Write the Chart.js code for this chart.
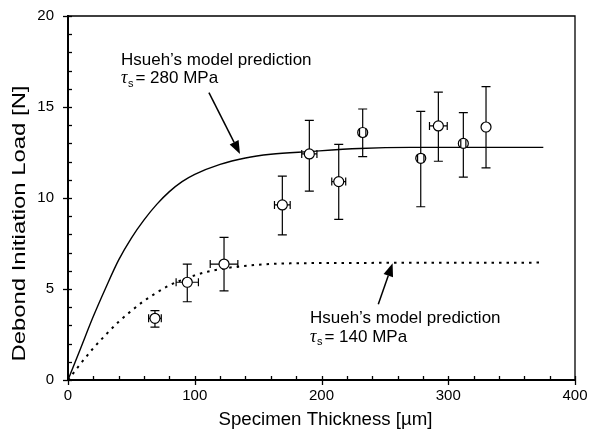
<!DOCTYPE html>
<html><head><meta charset="utf-8">
<script src="https://cdn.jsdelivr.net/npm/chart.js@4.4.0/dist/chart.umd.min.js"></script>
<style>html,body{margin:0;padding:0;background:#fff;}</style>
</head><body>
<canvas id="c" width="589" height="430"></canvas>
<script>
// ---- data ----
const thickness    = [68.6, 94.1, 123.1, 169.1, 190.4, 213.6, 232.5, 278.3, 292.2, 311.9, 329.8];
const load         = [3.39, 5.37, 6.37, 9.62, 12.42, 10.90, 13.60, 12.18, 13.96, 13.00, 13.90];
const loadUpper    = [3.81, 6.37, 7.84, 11.20, 14.27, 12.95, 14.89, 14.76, 15.82, 14.69, 16.12];
const loadLower    = [2.90, 4.30, 4.90, 7.97, 10.38, 8.83, 12.27, 9.52, 12.02, 11.15, 11.65];
const thicknessErr = [5.0, 8.8, 10.9, 6.2, 6.0, 5.5, 2.5, 2.5, 7.0, 2.0, 0];

const model280X = [0, 10, 20, 30, 40, 50, 60, 70, 80, 90, 100, 120, 140, 160, 190, 230, 270, 375];
const model280Y = [0, 1.75, 3.5, 5.1, 6.6, 7.8, 8.8, 9.65, 10.35, 10.9, 11.3, 11.85, 12.2, 12.4, 12.55, 12.72, 12.78, 12.78];
const model140X = [0, 10, 20, 30, 40, 50, 60, 70, 80, 90, 100, 110, 130, 150, 170, 220, 374];
const model140Y = [0, 0.9, 1.75, 2.5, 3.2, 3.8, 4.35, 4.8, 5.2, 5.5, 5.75, 5.95, 6.2, 6.33, 6.4, 6.43, 6.45];

const xTickLabels = [0, 100, 200, 300, 400];
const yTickLabels = [0, 5, 10, 15, 20];
const xTitle = "Specimen Thickness [\u00b5m]";
const yTitle = "Debond Initiation Load [N]";
const annotationLine1 = ["Hsueh\u2019s model prediction", "Hsueh\u2019s model prediction"];
const annotationTau = ["280 MPa", "140 MPa"];

const FONT = "'Liberation Sans', Arial, Helvetica, sans-serif";

// annotation anchors in data coordinates
const notes = [
  {x: 41.8, y: 17.31, tail: [111.2, 15.79], tip: [135.7, 12.42]},
  {x: 190.9, y: 3.12, tail: [244.8, 4.16], tip: [256.1, 6.41]}
];

function pts(xs, ys){ return xs.map((v,i)=>({x:v, y:ys[i]})); }

const decor = {
  id: 'decor',
  afterDatasetsDraw(chart){
    const {ctx, chartArea:a, scales:{x, y}} = chart;
    ctx.save();
    ctx.strokeStyle = '#000'; ctx.fillStyle = '#000';
    // top and right frame
    ctx.lineWidth = 1.3;
    ctx.beginPath(); ctx.moveTo(a.left, a.top); ctx.lineTo(a.right, a.top); ctx.lineTo(a.right, a.bottom); ctx.stroke();
    // tick marks
    ctx.lineWidth = 1.3;
    for (let v = 0; v <= 400; v += 20){
      const px = Math.round(x.getPixelForValue(v)) + 0.5;
      const major = v % 100 === 0;
      ctx.beginPath(); ctx.moveTo(px, a.bottom - 4); ctx.lineTo(px, a.bottom + (major ? 5 : 0)); ctx.stroke();
    }
    for (let v = 0; v <= 20; v += 1){
      const py = Math.round(y.getPixelForValue(v)) + 0.5;
      const major = v % 5 === 0;
      ctx.beginPath(); ctx.moveTo(a.left - (major ? 5 : 0), py); ctx.lineTo(a.left + 4, py); ctx.stroke();
    }
    // error bars
    const r = 5;
    ctx.lineWidth = 1.2;
    thickness.forEach((t, i) => {
      const px = x.getPixelForValue(t), py = y.getPixelForValue(load[i]);
      const top = y.getPixelForValue(loadUpper[i]), bot = y.getPixelForValue(loadLower[i]);
      ctx.beginPath();
      if (top < py - r){ ctx.moveTo(px, py - r); ctx.lineTo(px, top); }
      if (bot > py + r){ ctx.moveTo(px, py + r); ctx.lineTo(px, bot); }
      ctx.moveTo(px - 4.5, top); ctx.lineTo(px + 4.5, top);
      ctx.moveTo(px - 4.5, bot); ctx.lineTo(px + 4.5, bot);
      if (thicknessErr[i] > 0){
        const l = x.getPixelForValue(t - thicknessErr[i]), rr = x.getPixelForValue(t + thicknessErr[i]);
        if (l < px - r){ ctx.moveTo(px - r, py); ctx.lineTo(l, py); }
        if (rr > px + r){ ctx.moveTo(px + r, py); ctx.lineTo(rr, py); }
        ctx.moveTo(l, py - 4); ctx.lineTo(l, py + 4);
        ctx.moveTo(rr, py - 4); ctx.lineTo(rr, py + 4);
      }
      ctx.stroke();
    });
    // annotations
    notes.forEach((n, k) => {
      const tx = x.getPixelForValue(n.x), ty = y.getPixelForValue(n.y);
      ctx.textAlign = 'left'; ctx.textBaseline = 'alphabetic';
      ctx.font = '17px ' + FONT;
      ctx.fillText(annotationLine1[k], tx, ty);
      const b2 = ty + 18.5;
      ctx.font = "italic 18px 'Liberation Serif', 'DejaVu Serif', serif";
      ctx.fillText('\u03c4', tx, b2);
      let cx = tx + ctx.measureText('\u03c4').width;
      ctx.font = '11px ' + FONT;
      ctx.fillText('s', cx + 0.5, b2 + 3.5);
      cx += ctx.measureText('s').width + 2.5;
      ctx.font = '17px ' + FONT;
      ctx.fillText('= ' + annotationTau[k], cx, b2);
      // arrow
      const x0 = x.getPixelForValue(n.tail[0]), y0 = y.getPixelForValue(n.tail[1]);
      const x1 = x.getPixelForValue(n.tip[0]), y1 = y.getPixelForValue(n.tip[1]);
      const ang = Math.atan2(y1 - y0, x1 - x0), hl = 13, hw = 5;
      const bx = x1 - hl * Math.cos(ang), by = y1 - hl * Math.sin(ang);
      ctx.lineWidth = 1.5;
      ctx.beginPath(); ctx.moveTo(x0, y0); ctx.lineTo(bx, by); ctx.stroke();
      ctx.beginPath();
      ctx.moveTo(x1, y1);
      ctx.lineTo(bx + hw * Math.sin(ang), by - hw * Math.cos(ang));
      ctx.lineTo(bx - hw * Math.sin(ang), by + hw * Math.cos(ang));
      ctx.closePath(); ctx.fill();
    });
    // axis titles
    ctx.font = '18px ' + FONT;
    ctx.textAlign = 'center'; ctx.textBaseline = 'alphabetic';
    let w = ctx.measureText(xTitle).width;
    ctx.save(); ctx.translate(325.5, 424.5); ctx.scale(214 / w, 1); ctx.fillText(xTitle, 0, 0); ctx.restore();
    w = ctx.measureText(yTitle).width;
    ctx.save(); ctx.translate(25, 223.5); ctx.rotate(-Math.PI / 2); ctx.scale(276 / w, 1); ctx.fillText(yTitle, 0, 0); ctx.restore();
    ctx.restore();
  }
};

new Chart(document.getElementById('c'), {
  type: 'scatter',
  data: {
    datasets: [
      {data: pts(thickness, load), pointRadius: 5, pointHoverRadius: 5, pointBackgroundColor: '#fff',
       pointBorderColor: '#000', pointBorderWidth: 1.2, showLine: false, order: 0},
      {type: 'line', data: pts(model280X, model280Y), borderColor: '#000', borderWidth: 1.4, pointRadius: 0,
       cubicInterpolationMode: 'monotone', fill: false, order: 1},
      {type: 'line', data: pts(model140X, model140Y), borderColor: '#000', borderWidth: 2, borderDash: [2.5, 5],
       pointRadius: 0, cubicInterpolationMode: 'monotone', fill: false, order: 2}
    ]
  },
  options: {
    responsive: false, animation: false, events: [],
    layout: {padding: {left: 0, right: 14, top: 16, bottom: 0}},
    plugins: {legend: {display: false}, tooltip: {enabled: false}},
    scales: {
      x: {type: 'linear', min: 0, max: 400,
          afterBuildTicks: s => { s.ticks = xTickLabels.map(v => ({value: v})); },
          afterFit: s => { s.height = 50; s.paddingLeft = 0; s.paddingRight = 0; },
          grid: {drawOnChartArea: false, drawTicks: false},
          border: {display: true, color: '#000', width: 2},
          ticks: {color: '#000', font: {family: FONT, size: 15}, padding: 7, maxRotation: 0}},
      y: {type: 'linear', min: 0, max: 20,
          afterBuildTicks: s => { s.ticks = yTickLabels.map(v => ({value: v})); },
          afterFit: s => { s.width = 68; s.paddingTop = 0; s.paddingBottom = 0; },
          grid: {drawOnChartArea: false, drawTicks: false},
          border: {display: true, color: '#000', width: 2},
          ticks: {color: '#000', font: {family: FONT, size: 15}, padding: 14}}
    }
  },
  plugins: [decor]
});
</script>
</body></html>
